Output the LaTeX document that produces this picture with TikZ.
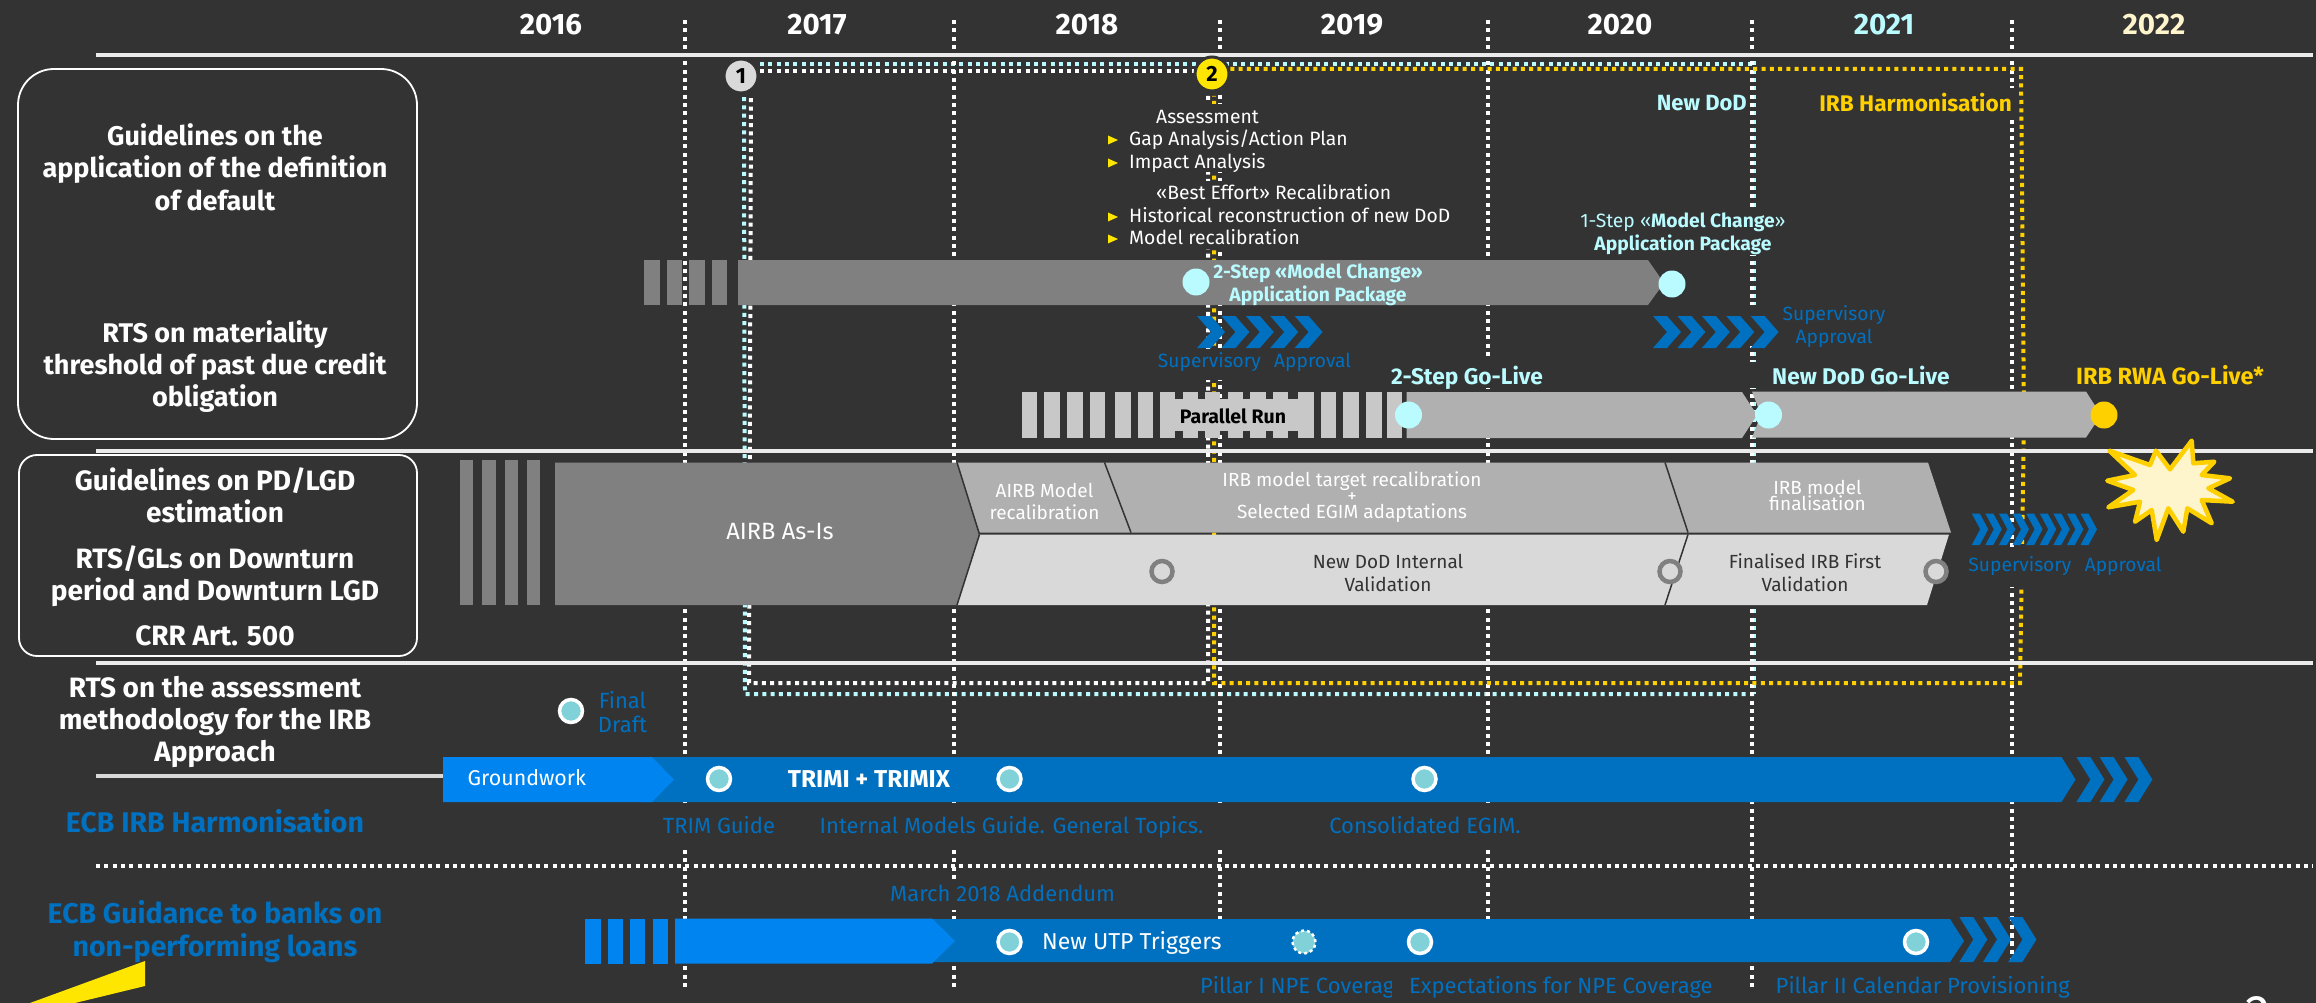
\documentclass[tikz,border=0pt]{standalone}
\usepackage{fontspec}
\setmainfont{Fira Sans}
\definecolor{bg}{HTML}{333333}
\definecolor{cya}{HTML}{BAFBFF}
\definecolor{yel}{HTML}{FFD000}
\definecolor{yel2}{HTML}{FFE600}
\definecolor{cream}{HTML}{FFF5CC}
\definecolor{blu}{HTML}{0070C0}
\definecolor{bri}{HTML}{0085F0}
\definecolor{gA}{HTML}{808080}
\definecolor{gB}{HTML}{B0B0B0}
\definecolor{gC}{HTML}{C8C8C8}
\definecolor{gD}{HTML}{D9D9D9}
\definecolor{teal}{HTML}{80D2D8}
\newcommand\fs[1]{\fontsize{#1}{#1}\selectfont}
\newcommand\chevr[6]{\fill[#6] (#1,#2) -- ({#1+#5},#2) -- ({#1+#4},{(#2+#3)/2}) -- ({#1+#5},#3) -- (#1,#3) -- ({#1+#4-#5},{(#2+#3)/2}) -- cycle;}
\tikzset{
 T/.style={inner sep=0pt,anchor=mid,text=white},
 TL/.style={inner sep=0pt,anchor=mid west,text=white},
 TR/.style={inner sep=0pt,anchor=mid east,text=white},
 fz/.style={font=\fs{#1},yshift={-(0.35*#1-2.4)*1pt}},
 fb/.style={font=\fs{#1}\bfseries,yshift={-(0.35*#1-2.4)*1pt}},
 yr/.style={T,fb=29.5},
 lefttxt/.style={T,fb=27},
 lefttxtb/.style={T,fb=28},
 bluelabel/.style={T,text=blu,fb=28.5},
 sm/.style={TL,fz=19.3},
 smc/.style={T,fz=19},
 sup/.style={T,text=blu,fz=19.2},
 blab/.style={T,text=blu,fz=22},
 blabl/.style={TL,text=blu,fz=22},
 cyb/.style={T,text=cya,fb=19.3},
 golive/.style={TL,fb=22.7},
 dots/.style={line width=4pt,dash pattern=on 4pt off 4.3pt},
 sec/.style={line width=4pt,draw=white!92!black},
 bigc/.style={circle,inner sep=0pt,minimum size=27pt,fill=cya},
 tealc/.style={circle,inner sep=0pt,minimum size=23pt,draw=white,line width=3.5pt,fill=teal},
 ring/.style={circle,inner sep=0pt,minimum size=21pt,draw=gA,line width=4.5pt,fill=gD},
 rbox/.style={draw=white,line width=1.8pt},
 num/.style={circle,inner sep=0pt,minimum size=34pt,draw=bg,line width=3pt,text=black,font=\fs{22}\bfseries},
}
\begin{document}
\begin{tikzpicture}[x=1pt,y=-1pt]
\path[use as bounding box,fill=bg] (0,0) rectangle (2316,1003);
% frames under separators
\draw[dots,cya] (760,64) -- (1754,64);
\draw[dots,cya] (1754,61.5) -- (1754,694);
\draw[dots,cya] (1754,694) -- (745,694) -- (744,96);
% year separators
\foreach \xx/\yy in {685/989,954/989,1220/963,1488/963,1752/989,2012/958}
  \draw[dots,white] (\xx,20) -- (\xx,\yy);
\draw[dots,white] (760,71) -- (1196,71);
\draw[dots,white] (1208,96) -- (1208,683) -- (749,683) -- (751,96);
\draw[dots,yel] (1222,69) -- (2021,69) -- (2024,420) -- (2020,683) -- (1214,683) -- (1214,96);
% masks behind labels
\fill[bg] (1105,104) rectangle (1450,172);
\fill[bg] (1105,181) rectangle (1450,249);
\fill[bg] (1155,349) rectangle (1355,380);
\fill[bg] (1388,358) rectangle (1545,388);
\fill[bg] (1590,208) rectangle (1790,255);
\fill[bg] (1745,305) rectangle (1760,346);
\fill[bg] (1745,362) rectangle (1950,388);
\fill[bg] (1818,88) rectangle (2016,115);
\fill[bg] (1968,547) rectangle (2163,587);
\fill[bg] (660,803) rectangle (780,848);
\fill[bg] (815,803) rectangle (1225,848);
\fill[bg] (1328,803) rectangle (1522,848);
\fill[bg] (890,880) rectangle (1125,910);
% section lines
\draw[sec] (96,55.5) -- (2313,55.5);
\draw[sec] (96,451) -- (2313,451);
\draw[sec] (96,663) -- (2313,663);
\draw[line width=4.5pt,draw=gD] (96,776) -- (445,776);
\draw[dots,white] (96,866) -- (2313,866);
% numbers
\node[num,fill=gD] (n1) at (741,76) {1};
\node[num,fill=yel2] (n2) at (1212,74) {2};
% years
\node[yr] (y16) at (551,24) {2016};
\node[yr] (y17) at (817,24) {2017};
\node[yr] (y18) at (1087,24) {2018};
\node[yr] (y19) at (1352,24) {2019};
\node[yr] (y20) at (1620,24) {2020};
\node[yr,text=cya] (y21) at (1884,24) {2021};
\node[yr,text=cream] (y22) at (2154,24) {2022};
% left boxes
\draw[rbox,rounded corners=36pt] (18,69) rectangle (417,439);
\draw[rbox,rounded corners=18pt] (19,455) rectangle (417,656);
\node[lefttxt] (l1) at (215,136) {Guidelines on the};
\node[lefttxt] (l2) at (215,168) {application of the definition};
\node[lefttxt] (l3) at (215,201) {of default};
\node[lefttxt] (l4) at (215,333) {RTS on materiality};
\node[lefttxt] (l5) at (215,365) {threshold of past due credit};
\node[lefttxt] (l6) at (215,397) {obligation};
\node[lefttxtb] (l7) at (215,480) {Guidelines on PD/LGD};
\node[lefttxtb] (l8) at (215,512) {estimation};
\node[lefttxtb] (l9) at (215,558) {RTS/GLs on Downturn};
\node[lefttxtb] (l10) at (215,590) {period and Downturn LGD};
\node[lefttxtb] (l11) at (215,635) {CRR Art. 500};
\node[lefttxtb] (l12) at (215,687) {RTS on the assessment};
\node[lefttxtb] (l13) at (215,719) {methodology for the IRB};
\node[lefttxtb] (l14) at (215,751) {Approach};
\node[bluelabel] (l15) at (215,822) {ECB IRB Harmonisation};
\node[bluelabel] (l16) at (215,913) {ECB Guidance to banks on};
\node[bluelabel] (l17) at (215,946) {non-performing loans};
% text block
\node[sm] (a0) at (1156,117) {Assessment};
\node[sm] (a1) at (1129,139) {Gap Analysis/Action Plan};
\node[sm] (a2) at (1129,162) {Impact Analysis};
\node[sm] (a3) at (1156,193) {«Best Effort» Recalibration};
\node[sm] (a4) at (1129,216) {Historical reconstruction of new DoD};
\node[sm] (a5) at (1129,238) {Model recalibration};
\foreach \yy in {140,163,217,239}
  \fill[yel2] (1108,\yy-4.5) -- (1118,\yy) -- (1108,\yy+4.5) -- cycle;
% top labels
\node[TR,text=cya,fb=22] (nd) at (1747,103) {New DoD};
\node[TR,text=yel,fb=22.6] (ih) at (2012,103) {IRB Harmonisation};
% bar 1
\foreach \a/\b in {644/660,667/682,689/705,712/727}
  \fill[gA] (\a,260) rectangle (\b,305);
\fill[gA] (738,260) -- (1648,260) -- (1664,283) -- (1648,305) -- (738,305) -- cycle;
\node[bigc] (c1) at (1196,282) {};
\node[bigc] (c2) at (1672,284) {};
\node[cyb] (t1) at (1318,272) {2-Step «Model Change»};
\node[cyb] (t2) at (1318,295) {Application Package};
\node[T,text=cya,fz=19.3] (t3) at (1683,221) {1-Step «\textbf{Model Change}»};
\node[cyb] (t4) at (1683,244) {Application Package};
% chevrons
\foreach \k in {0,...,4} { \chevr{\fpeval{1197+24.4*\k}}{316}{348}{28}{14}{blu} }
\foreach \k in {0,...,4} { \chevr{\fpeval{1653+24.4*\k}}{316}{348}{28}{14}{blu} }
\node[sup] (s1) at (1254.5,361) {Supervisory\hspace{0.7em}Approval};
\node[sup] (s2) at (1834,314) {Supervisory};
\node[sup] (s3) at (1834,337) {Approval};
% go-live labels
\node[golive,text=cya] (g1) at (1391,376) {2-Step Go-Live};
\node[golive,text=cya] (g2) at (1772,376) {New DoD Go-Live};
\node[TL,text=yel,fb=23.5] (g3) at (2076,376) {IRB RWA Go-Live*};
% parallel run
\foreach \a/\b in {1022/1037,1044/1060,1067/1083,1090/1105,1115/1130.5,1138/1153,1160/1175,1182.5/1198,1205/1220,1228/1243,1250/1266,1273/1288,1298/1314,1321/1336,1343/1358.5,1366/1381.5,1386.6/1402}
  \fill[gC] (\a,392) rectangle (\b,438);
\fill[gC] (1160,399) rectangle (1314,431);
\node[T,text=black,fb=19.5] (pr) at (1233,416) {Parallel Run};
\fill[gB] (1406.5,392) -- (1742,392) -- (1757,415) -- (1742,438) -- (1406.5,438) -- cycle;
\fill[gB] (1752,391.5) -- (2086,391.5) -- (2101,415) -- (2086,437.5) -- (1752,437.5) -- (1761,415) -- cycle;
\node[bigc] (c3) at (1408.5,415) {};
\node[bigc] (c4) at (1768.5,415) {};
\node[bigc,fill=yel] (c5) at (2104,415) {};
% AIRB row
\foreach \a/\b in {460/473,482/495.5,504.5/518,527/540}
  \fill[gA] (\a,460) rectangle (\b,605);
\fill[gA] (555,462.5) -- (957,462.5) -- (979,534) -- (957,605) -- (555,605) -- cycle;
\fill[gB] (957,462.5) -- (1104.5,462.5) -- (1131,532.5) -- (979.5,532.5) -- cycle;
\fill[gB] (1104.5,462.5) -- (1665,462.5) -- (1688,532.5) -- (1131,532.5) -- cycle;
\fill[gB] (1665,462.5) -- (1928,462.5) -- (1951,532.5) -- (1688,532.5) -- cycle;
\draw[bg,line width=1.5pt] (957,462.5) -- (979.5,534.5) (1104.5,462.5) -- (1131,532.5) (1665,462.5) -- (1688,532.5);
\fill[gD] (979.5,534.5) -- (1688,534.5) -- (1665,605) -- (957,605) -- cycle;
\fill[gD] (1688,534.5) -- (1949,534.5) -- (1927,605) -- (1665,605) -- cycle;
\draw[bg,line width=1.5pt] (1688,534.5) -- (1665,605) (979.5,534.5) -- (957,605);
\node[T,fz=23.6] (r1) at (780,531.5) {AIRB As-Is};
\node[smc] (r2) at (1044.5,491) {AIRB Model};
\node[smc] (r3) at (1044.5,513) {recalibration};
\node[smc] (r4) at (1352,480) {IRB model target recalibration};
\node[smc] (r5) at (1352,495.5) {+};
\node[smc] (r6) at (1352,512) {Selected EGIM adaptations};
\node[smc] (r7) at (1817.5,488) {IRB model};
\node[smc] (r8) at (1817.5,503.5) {finalisation};
\node[smc,text=bg] (r9) at (1388,562) {New DoD Internal};
\node[smc,text=bg] (r10) at (1388,585) {Validation};
\node[smc,text=bg] (r11) at (1805,562) {Finalised IRB First};
\node[smc,text=bg] (r12) at (1805,585) {Validation};
\node[ring] (k1) at (1162,571.5) {};
\node[ring] (k2) at (1670,571.5) {};
\node[ring] (k3) at (1936,571.5) {};
\foreach \k in {0,...,8} { \chevr{\fpeval{1971.7+13.6*\k}}{513.5}{545}{16.5}{8}{blu} }
\node[sup] (s4) at (2065,565) {Supervisory\hspace{0.7em}Approval};
% star
\draw[yel,fill=cream,line width=4.5pt,line join=round]
 (2109.3,450.7) -- (2150,465) -- (2156,450.7) -- (2170,469.3) -- (2191.7,440.7) -- (2193.3,463.3) -- (2214.3,461.7) -- (2201.7,475) -- (2230,478.3) -- (2208.3,488.3) -- (2232.7,501.7) -- (2201.7,500) -- (2211.7,523.3) -- (2187.3,508.3) -- (2183.3,531.7) -- (2168.3,508.3) -- (2156.7,540) -- (2151.7,510) -- (2135,521.7) -- (2140,501.7) -- (2108.3,507.3) -- (2133.3,490) -- (2107.3,480.7) -- (2135,475) -- cycle;
% IRB blue bar
\fill[blu] (640,757) -- (2061.5,757) -- (2075.5,779.5) -- (2061.5,802) -- (640,802) -- cycle;
\chevr{2076.4}{757}{802}{28}{14}{blu}
\chevr{2099.6}{757}{802}{28}{14}{blu}
\chevr{2124.4}{757}{802}{28}{14}{blu}
\fill[bri] (443,757) -- (652,757) -- (674,779.5) -- (652,802) -- (443,802) -- cycle;
\node[TL,fz=21.4] (b1) at (467.5,778) {Groundwork};
\node[T,fb=24.4] (b2) at (869,779) {TRIMI + TRIMIX};
\node[tealc] (d1) at (719,779) {};
\node[tealc] (d2) at (1009.5,779) {};
\node[tealc] (d3) at (1424.5,779) {};
\node[tealc] (d0) at (571,711) {};
\node[blab] (f1) at (622.5,701) {Final};
\node[blab] (f2) at (622.5,725) {Draft};
\node[blab] (e1) at (719,826) {TRIM Guide};
\node[blabl] (e2) at (819.5,826) {Internal Models Guide. General Topics.};
\node[blab] (e3) at (1425,826) {Consolidated EGIM.};
\node[blabl] (e4) at (890,894) {March 2018 Addendum};
% NPL bar
\foreach \a/\b in {585/601,608/623,630/645,652.5/668}
  \fill[bri] (\a,918.5) rectangle (\b,963.5);
\fill[blu] (920,919) -- (1950,919) -- (1964,941) -- (1950,962) -- (920,962) -- cycle;
\chevr{1959.3}{917}{962}{28}{14}{blu}
\chevr{1983}{917}{962}{28}{14}{blu}
\chevr{2008.4}{917}{962}{28}{14}{blu}
\draw[dots,white] (2012,917) -- (2012,958);
\chevr{2008.4}{917}{962}{26}{11}{blu}
\fill[bri] (675,918.5) -- (932,918.5) -- (955,941) -- (932,963.5) -- (675,963.5) -- cycle;
\node[tealc] (h1) at (1009.5,942) {};
\node[tealc] (h2) at (1420,942) {};
\node[tealc] (h3) at (1916,942) {};
\node[circle,inner sep=0pt,minimum size=23pt,fill=teal,draw=white,line width=2.5pt,dash pattern=on 3pt off 3pt] (h4) at (1304,942) {};
\node[TL,fz=23] (b3) at (1042,941.5) {New UTP Triggers};
\begin{scope}
\clip (1195,964) rectangle (1391.5,1003);
\node[blabl] (p1) at (1200,986) {Pillar I NPE Coverage};
\end{scope}
\node[blabl] (p2) at (1409,986) {Expectations for NPE Coverage};
\node[blabl] (p3) at (1775.5,986) {Pillar II Calendar Provisioning};
% bottom-left wedge and page number
\fill[yel2] (145,961) -- (145,986) -- (75,1003) -- (30,1003) -- cycle;
\node[inner sep=0pt,anchor=base,text=white,font=\fs{50}] (pg) at (2258,1030) {2};
\end{tikzpicture}
\end{document}
